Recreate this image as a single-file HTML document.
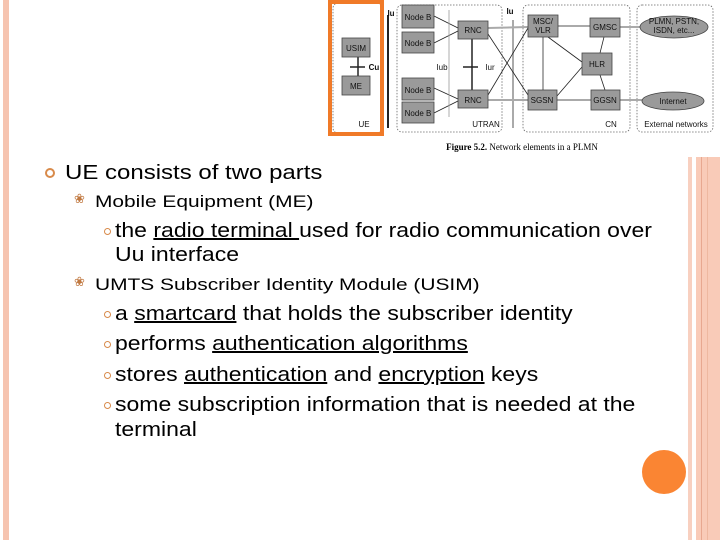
<!DOCTYPE html>
<html><head><style>
body{margin:0;width:720px;height:540px;background:#fff;position:relative;overflow:hidden;font-family:"Liberation Sans",sans-serif;color:#000}
.a{position:absolute;white-space:nowrap;transform-origin:0 0}
.t{font-size:20px;line-height:24px;transform:scaleX(1.15)}
.s{font-size:17px;line-height:20px;transform:scaleX(1.23)}
.b{position:absolute;width:5px;height:5px;border:1.5px solid #d88a4a;border-radius:50%}
.g{position:absolute;font-size:13px;color:#c07840;font-family:"DejaVu Sans",sans-serif}
u{text-decoration-thickness:1.5px}
</style></head><body>
<div class="a" style="left:3px;top:0;width:6px;height:540px;background:#f6c4b0"></div>
<div class="a" style="left:688px;top:157px;width:4px;height:383px;background:#f8d0c0"></div>
<div class="a" style="left:696px;top:157px;width:24px;height:383px;background:#f9cbb8"></div>
<div class="a" style="left:701px;top:157px;width:1px;height:383px;background:#e8a890"></div>
<div class="a" style="left:707px;top:157px;width:1px;height:383px;background:#eeb8a0"></div>
<div class="a" style="left:642px;top:450px;width:44px;height:44px;border-radius:50%;background:#fa8533"></div>

<svg class="a" style="left:0;top:0" width="720" height="160" font-family="Liberation Sans,sans-serif">
<g fill="none" stroke="#666" stroke-dasharray="1.5,1.5" stroke-width="0.8">
<rect x="333" y="3" width="49" height="130" rx="5"/>
<rect x="397" y="5" width="105" height="127" rx="5"/>
<rect x="523" y="5" width="107" height="127" rx="5"/>
<rect x="637" y="5" width="76" height="127" rx="5"/>
</g>
<g stroke="#aaa" stroke-width="2">
<line x1="488" y1="28" x2="528" y2="27"/><line x1="558" y1="26" x2="590" y2="26"/><line x1="620" y1="27" x2="642" y2="27"/>
<line x1="488" y1="100" x2="528" y2="100"/><line x1="557" y1="100" x2="591" y2="100"/><line x1="620" y1="100" x2="642" y2="100"/>
<line x1="513" y1="20" x2="513" y2="128"/><line x1="543" y1="37" x2="543" y2="90"/>
</g>
<g stroke="#222" stroke-width="0.8">
<line x1="434" y1="16" x2="458" y2="28"/><line x1="434" y1="43" x2="458" y2="31"/>
<line x1="434" y1="88" x2="458" y2="99"/><line x1="434" y1="113" x2="458" y2="101"/>
<line x1="488" y1="34" x2="528" y2="95"/><line x1="488" y1="95" x2="528" y2="28"/>
<line x1="548" y1="37" x2="582" y2="62"/><line x1="557" y1="96" x2="582" y2="67"/>
<line x1="604" y1="37" x2="600" y2="53"/><line x1="600" y1="75" x2="605" y2="90"/>
<line x1="449" y1="10" x2="449" y2="117" stroke="#999"/>
</g>
<line x1="472" y1="39" x2="472" y2="90" stroke="#222" stroke-width="1.5"/>
<line x1="463" y1="67" x2="478" y2="67" stroke="#222" stroke-width="1.5"/>
<line x1="358" y1="57" x2="358" y2="76" stroke="#222" stroke-width="1.5"/>
<line x1="350" y1="67" x2="365" y2="67" stroke="#222" stroke-width="1.5"/>
<line x1="388" y1="15" x2="388" y2="128" stroke="#222" stroke-width="2"/>
<g fill="#9a9a9a" stroke="#444" stroke-width="0.8">
<rect x="342" y="38" width="28" height="19"/><rect x="342" y="76" width="28" height="19"/>
<rect x="402" y="5" width="32" height="23"/><rect x="402" y="32" width="32" height="21"/>
<rect x="402" y="78" width="32" height="22"/><rect x="402" y="102" width="32" height="21"/>
<rect x="458" y="21" width="30" height="18"/><rect x="458" y="90" width="30" height="18"/>
<rect x="528" y="15" width="30" height="22"/><rect x="590" y="18" width="30" height="19"/>
<rect x="582" y="53" width="30" height="22"/><rect x="528" y="90" width="29" height="20"/>
<rect x="591" y="90" width="29" height="20"/>
<ellipse cx="674" cy="27" rx="34" ry="11"/><ellipse cx="673" cy="101" rx="31" ry="9"/>
</g>
<g font-size="8" fill="#111" text-anchor="middle">
<text x="356" y="51">USIM</text><text x="356" y="89">ME</text>
<text x="418" y="20">Node B</text><text x="418" y="46">Node B</text>
<text x="418" y="93">Node B</text><text x="418" y="116">Node B</text>
<text x="473" y="33">RNC</text><text x="473" y="103">RNC</text>
<text x="543" y="24">MSC/</text><text x="543" y="33">VLR</text>
<text x="605" y="30">GMSC</text><text x="597" y="67">HLR</text>
<text x="542" y="103">SGSN</text><text x="605" y="103">GGSN</text>
<text x="674" y="24">PLMN, PSTN,</text><text x="674" y="33">ISDN, etc...</text>
<text x="673" y="104">Internet</text>
<text x="364" y="127">UE</text><text x="486" y="127">UTRAN</text><text x="611" y="127">CN</text>
<text x="676" y="127">External networks</text>
<text x="442" y="70">Iub</text><text x="490" y="70">Iur</text>
<text x="510" y="14" font-weight="bold">Iu</text>
<text x="391" y="16" font-weight="bold">Iu</text>
<text x="374" y="70" font-weight="bold">Cu</text>
</g>
<text x="522" y="150" font-size="9" text-anchor="middle" font-family="Liberation Serif,serif"><tspan font-weight="bold">Figure 5.2.</tspan> Network elements in a PLMN</text>
<rect x="330" y="2" width="52" height="132" fill="none" stroke="#f07a28" stroke-width="4"/>
</svg>

<div class="b" style="left:45px;top:168px;width:6px;height:6px;border-width:2px"></div>
<div class="a t" style="left:65px;top:161px;transform:scaleX(1.2)">UE consists of two parts</div>
<div class="g" style="left:74px;top:192px">&#x2740;</div>
<div class="a s" style="left:95px;top:192px">Mobile Equipment (ME)</div>
<div class="b" style="left:104px;top:228px"></div>
<div class="a t" style="left:115px;top:219px">the <u>radio terminal </u>used for radio communication over</div>
<div class="a t" style="left:115px;top:243px">Uu interface</div>
<div class="g" style="left:74px;top:275px">&#x2740;</div>
<div class="a s" style="left:95px;top:275px;transform:scaleX(1.23)">UMTS Subscriber Identity Module (USIM)</div>
<div class="b" style="left:104px;top:311px"></div>
<div class="a t" style="left:115px;top:302px">a <u>smartcard</u> that holds the subscriber identity</div>
<div class="b" style="left:104px;top:341px"></div>
<div class="a t" style="left:115px;top:332px">performs <u>authentication algorithms</u></div>
<div class="b" style="left:104px;top:372px"></div>
<div class="a t" style="left:115px;top:363px">stores <u>authentication</u> and <u>encryption</u> keys</div>
<div class="b" style="left:104px;top:402px"></div>
<div class="a t" style="left:115px;top:393px">some subscription information that is needed at the</div>
<div class="a t" style="left:115px;top:418px">terminal</div>
</body></html>
